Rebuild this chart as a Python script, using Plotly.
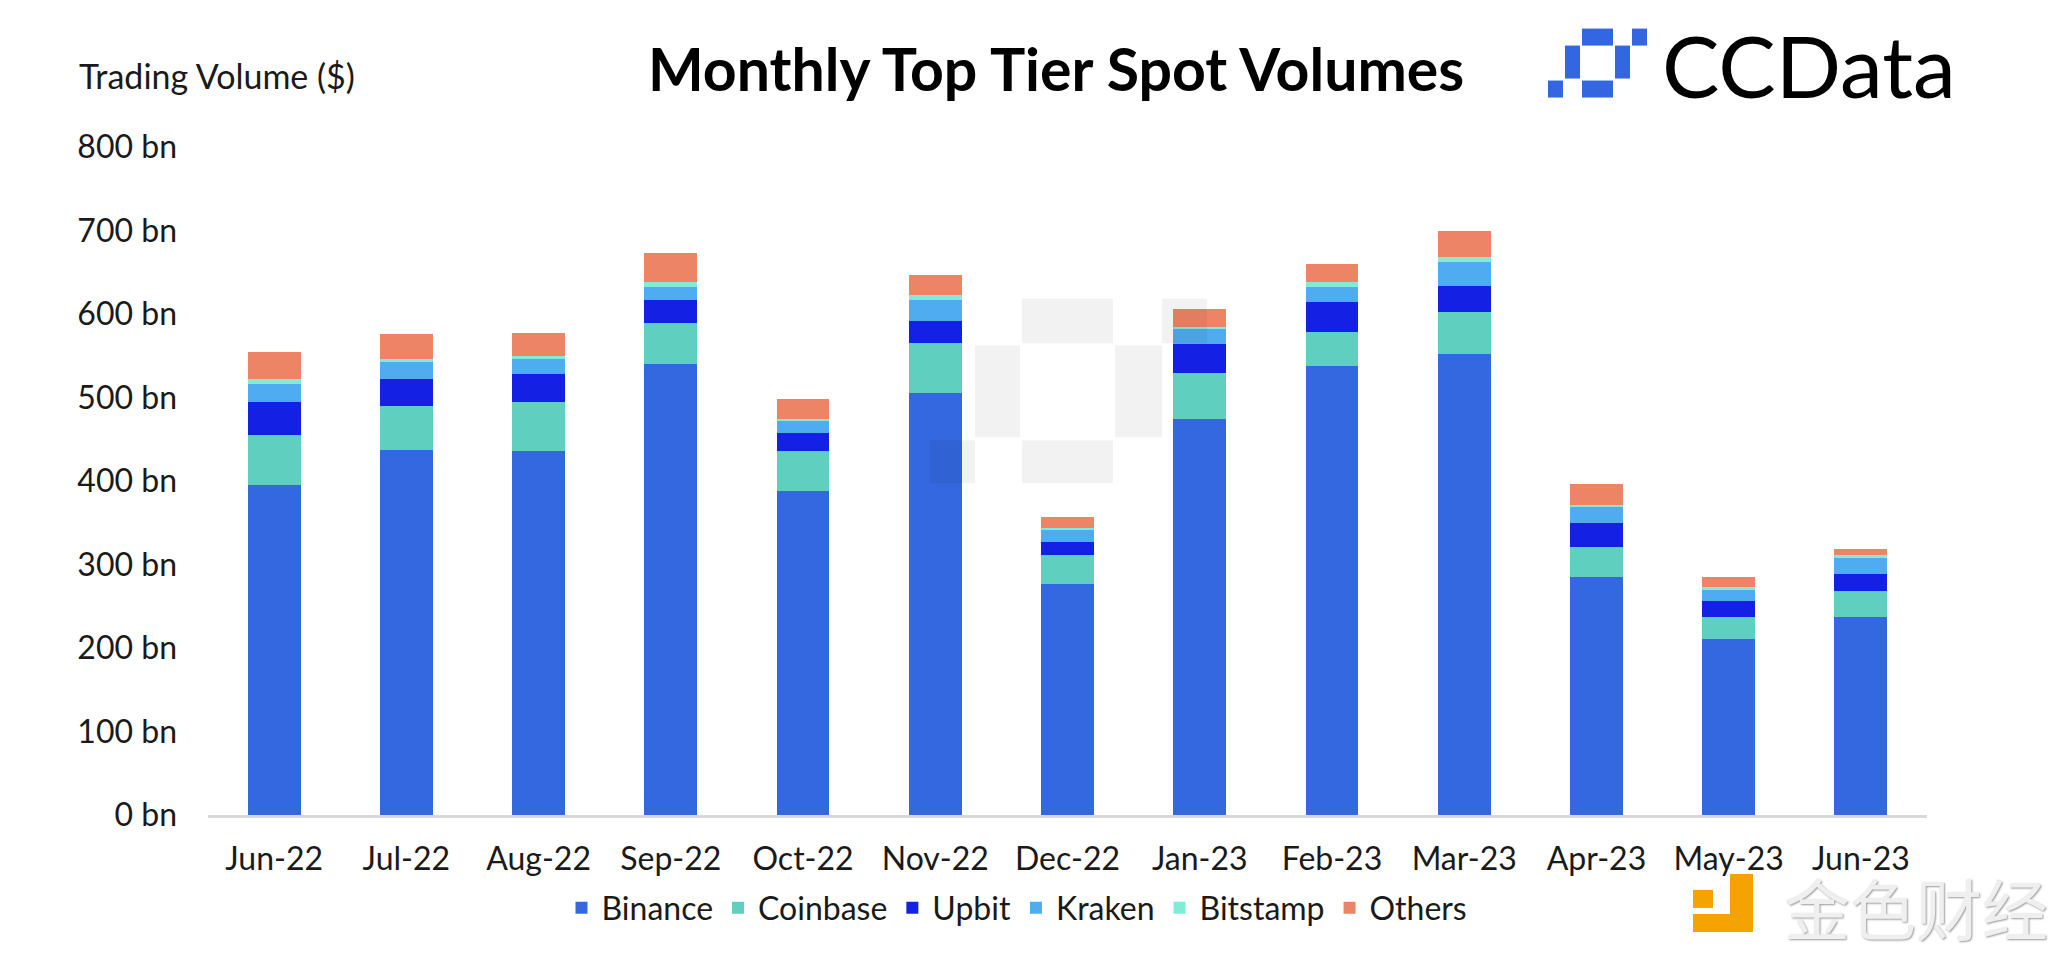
import plotly.graph_objects as go

months = ["Jun-22", "Jul-22", "Aug-22", "Sep-22", "Oct-22", "Nov-22", "Dec-22",
          "Jan-23", "Feb-23", "Mar-23", "Apr-23", "May-23", "Jun-23"]

binance = [395.6, 437.5, 436.0, 539.6, 388.6, 505.7, 277.0, 474.3, 538.0, 552.0, 285.0, 210.3, 236.7]
coinbase = [59.3, 52.3, 58.8, 49.4, 47.4, 59.8, 34.4, 55.3, 40.0, 51.0, 35.4, 26.9, 31.3]
upbit = [39.9, 32.4, 32.9, 27.3, 21.4, 26.5, 16.0, 34.9, 36.3, 30.8, 29.4, 18.9, 21.0]
kraken = [20.9, 20.8, 18.9, 15.5, 14.9, 24.8, 13.9, 17.0, 18.5, 28.9, 18.9, 13.9, 19.0]
bitstamp = [6.5, 3.0, 3.0, 6.0, 2.5, 6.0, 3.0, 3.5, 5.0, 6.0, 2.5, 3.0, 3.4]
others = [31.8, 29.5, 27.4, 35.8, 23.5, 23.4, 12.5, 21.4, 21.9, 31.3, 25.4, 12.5, 6.6]

series_names = ["Binance", "Coinbase", "Upbit", "Kraken", "Bitstamp", "Others"]
series_values = [binance, coinbase, upbit, kraken, bitstamp, others]
series_colors = ["#3468E0", "#5FCFC0", "#1420E3", "#50ACF0", "#82EBD8", "#EE8466"]

y_ticks = [0, 100, 200, 300, 400, 500, 600, 700, 800]
y_tick_text = ["0 bn", "100 bn", "200 bn", "300 bn", "400 bn", "500 bn", "600 bn", "700 bn", "800 bn"]

FONT = "Lato"
W, H = 2070, 962
L, R, T, B = 208, 1927, 146.5, 815


def px(x):
    return (x - L) / (R - L)


def py(y):
    return (B - y) / (B - T)


fig = go.Figure()
for name, vals, col in zip(series_names, series_values, series_colors):
    fig.add_trace(go.Bar(x=months, y=vals, name=name, marker=dict(color=col, line=dict(width=0))))

shapes = []
# CCData logo icon (top right)
logo_blocks = [
    (1582, 28, 1613, 45), (1632, 28, 1647, 45),
    (1565, 45, 1580, 78), (1615, 45, 1630, 78),
    (1582, 80, 1613, 97), (1548, 80, 1563, 97),
]
for x0, y0, x1, y1 in logo_blocks:
    shapes.append(dict(type="rect", xref="paper", yref="paper",
                       x0=px(x0), x1=px(x1), y0=py(y1), y1=py(y0),
                       fillcolor="#3366E0", line=dict(width=0), layer="above"))
# faint watermark in the chart
wm_blocks = [
    (1022, 298, 1113, 343), (1162, 298, 1207, 343),
    (975, 345, 1020, 437), (1115, 345, 1162, 437),
    (1022, 440, 1113, 483), (930, 440, 975, 483),
]
for x0, y0, x1, y1 in wm_blocks:
    shapes.append(dict(type="rect", xref="paper", yref="paper",
                       x0=px(x0), x1=px(x1), y0=py(y1), y1=py(y0),
                       fillcolor="rgba(0,0,0,0.05)", line=dict(width=0), layer="above"))
# Jinse watermark icon (bottom right)
js_blocks = [(1693, 890, 1713, 908), (1730, 874, 1753, 932), (1693, 914, 1753, 932)]
for x0, y0, x1, y1 in js_blocks:
    shapes.append(dict(type="rect", xref="paper", yref="paper",
                       x0=px(x0), x1=px(x1), y0=py(y1), y1=py(y0),
                       fillcolor="#F5A300", line=dict(width=0), layer="above"))

annotations = [
    dict(text="<b>Monthly Top Tier Spot Volumes</b>", xref="paper", yref="paper",
         x=px(1056), y=py(68), xanchor="center", yanchor="middle", showarrow=False,
         font=dict(family=FONT, size=59, color="#000000")),
    dict(text="Trading Volume ($)", xref="paper", yref="paper",
         x=px(77), y=py(75), xanchor="left", yanchor="middle", showarrow=False,
         font=dict(family=FONT, size=34, color="#1a1a1a")),
    dict(text="CCData", xref="paper", yref="paper",
         x=px(1660), y=py(64), xanchor="left", yanchor="middle", showarrow=False,
         font=dict(family=FONT, size=86, color="#000000")),
    dict(text="金色财经", xref="paper", yref="paper",
         x=px(1782), y=py(906), xanchor="left", yanchor="middle", showarrow=False,
         font=dict(family="Noto Sans CJK SC", size=66, color="#EFEFEF",
                   shadow="1px 1px 2px #9a9a9a")),
]

fig.update_layout(
    width=W, height=H,
    paper_bgcolor="white", plot_bgcolor="white",
    margin=dict(l=L, r=W - R, t=T, b=H - B, pad=0),
    barmode="stack", bargap=0.6,
    font=dict(family=FONT, size=32, color="#1a1a1a"),
    showlegend=True,
    legend=dict(orientation="h", x=px(1017), y=py(908), xanchor="center", yanchor="middle",
                font=dict(family=FONT, size=32, color="#1a1a1a"), itemwidth=30,
                traceorder="normal", bgcolor="rgba(0,0,0,0)"),
    shapes=shapes,
    annotations=annotations,
)
fig.update_xaxes(showgrid=False, showline=True, linecolor="#D9D9D9", linewidth=3,
                 ticks="", ticklabelstandoff=14, tickfont=dict(size=32), zeroline=False)
fig.update_yaxes(range=[0, 800], tickmode="array", tickvals=y_ticks, ticktext=y_tick_text,
                 showgrid=False, showline=False, zeroline=False, ticks="",
                 ticklabelstandoff=30, tickfont=dict(size=32))

fig.write_html("out.html", config={"displayModeBar": False},
               post_script="document.body.style.margin='0';")
